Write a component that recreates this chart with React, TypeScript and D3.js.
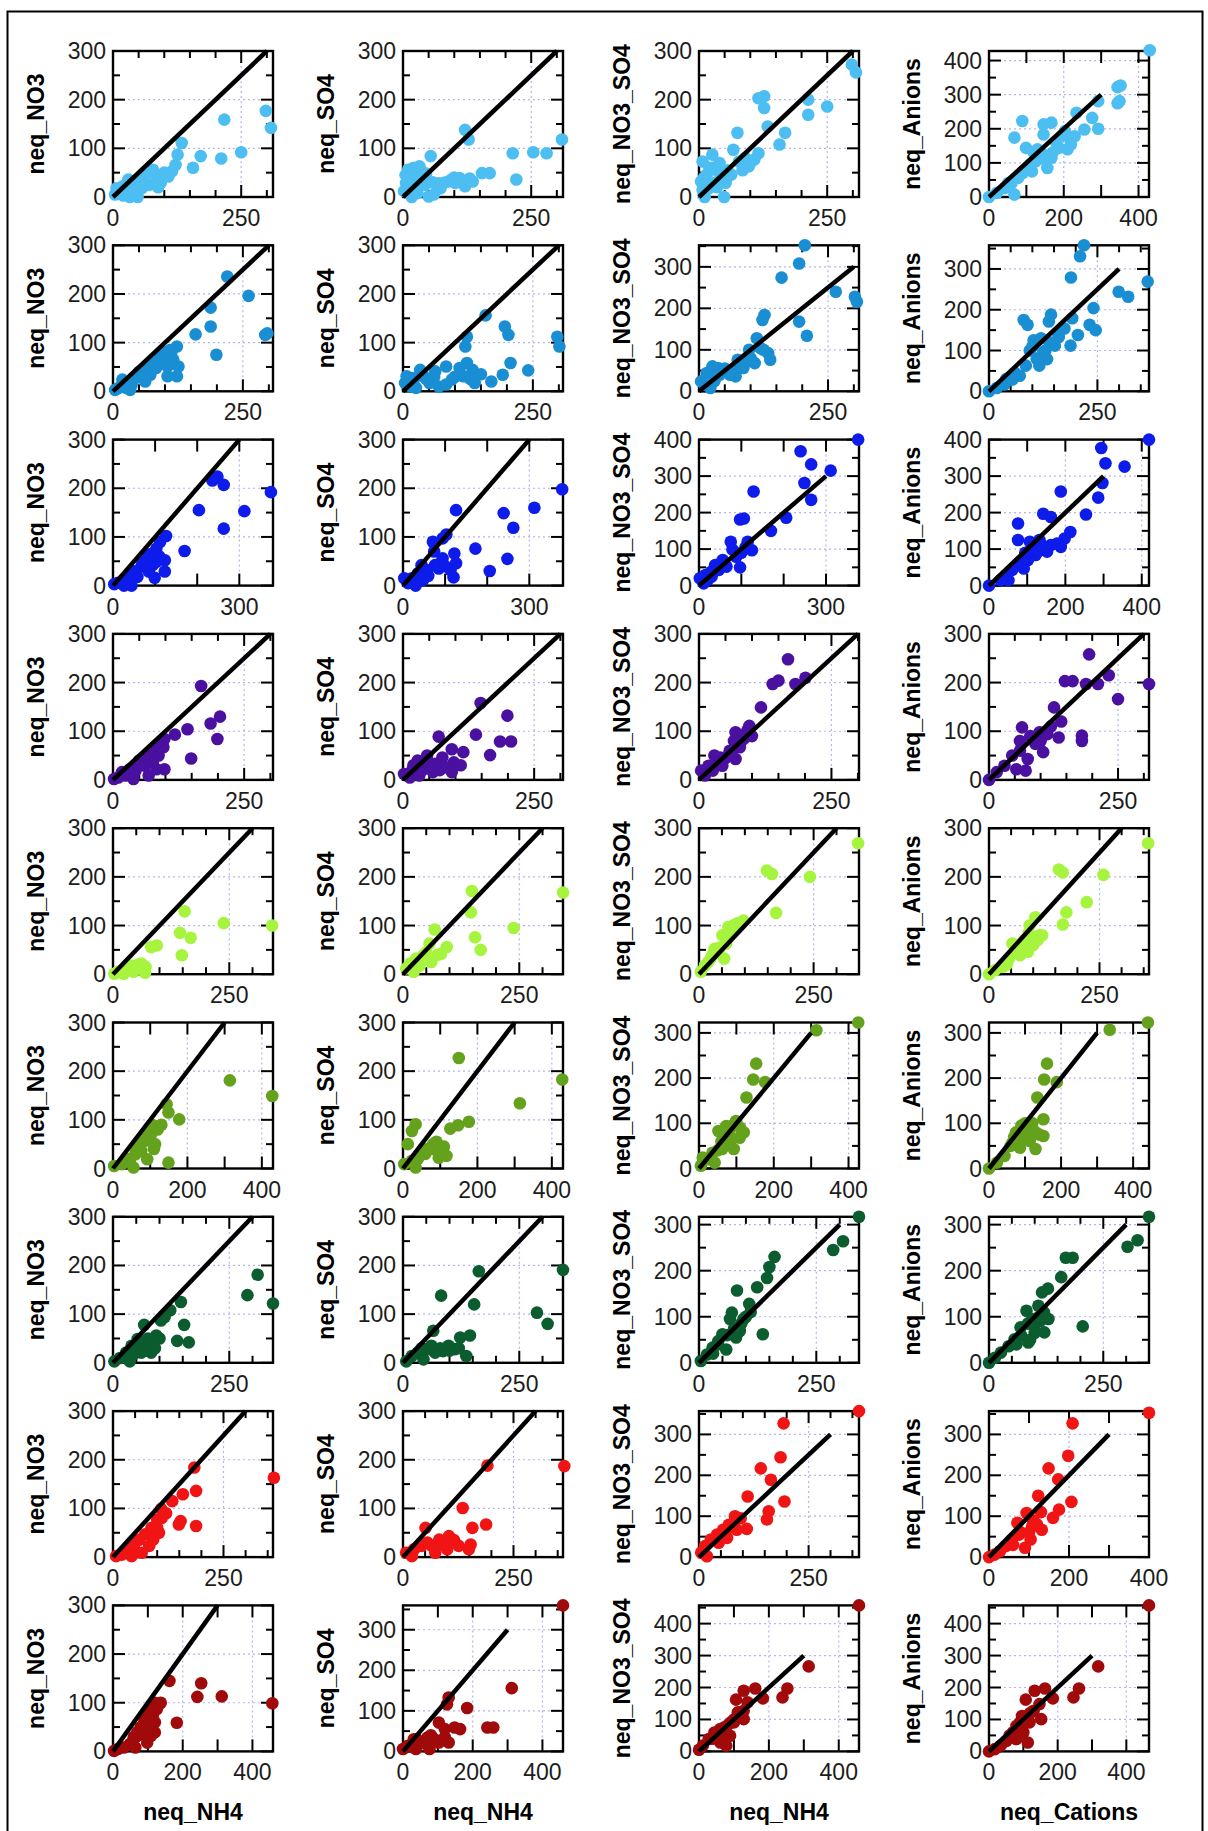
import React, { useEffect, useRef } from 'react'
import * as d3 from 'd3'

// one colour per row of panels
const rowColors = ['#4cbef2', '#1a8ed3', '#0d1cea', '#4a10a0', '#a6f43e', '#64a21e', '#0b5c2e', '#f01414', '#a00a0a']
const yTitles = ['neq_NO3', 'neq_SO4', 'neq_NO3_SO4', 'neq_Anions']
const xTitles = ['neq_NH4', 'neq_NH4', 'neq_NH4', 'neq_Cations']

// axis ranges per panel [row][col]
const xMax = [
  [312, 312, 312, 428],
  [308, 308, 310, 369],
  [380, 380, 378, 419],
  [305, 305, 302, 310],
  [344, 344, 349, 362],
  [430, 430, 428, 444],
  [344, 344, 341, 350],
  [362, 362, 365, 400],
  [459, 459, 458, 466]
]
const yMax = [
  [300, 300, 300, 428],
  [300, 300, 352, 358],
  [300, 300, 400, 400],
  [300, 300, 300, 300],
  [300, 300, 300, 300],
  [300, 300, 323, 323],
  [300, 300, 317, 317],
  [300, 300, 357, 357],
  [300, 360, 457, 457]
]
// spacing of the x tick labels
const xLabelStep = [
  [250, 250, 250, 200],
  [250, 250, 250, 250],
  [300, 300, 300, 200],
  [250, 250, 250, 250],
  [250, 250, 250, 250],
  [200, 200, 200, 200],
  [250, 250, 250, 250],
  [250, 250, 250, 200],
  [200, 200, 200, 200]
]

type P = [number, number][]

const r0c0: P = [[298,177],[308,142],[217,159],[250,92],[211,79],[171,84],[156,60],[134,111],[126,87],[122,66],[115,53],[108,42],[93,29],[96,46],[78,56],[63,46],[52,32],[41,18],[30,36],[19,22],[11,12],[4,5],[33,0],[48,0],[26,8],[44,8],[56,18],[7,18],[60,30],[85,38],[100,50],[70,25],[40,12],[15,8],[20,3],[88,20]]
const r0c1: P = [[310,118],[280,90],[254,92],[214,90],[221,36],[169,49],[154,49],[136,32],[121,138],[128,118],[110,39],[95,36],[80,29],[65,25],[50,1],[54,84],[36,53],[28,32],[21,60],[13,46],[6,29],[2,12],[17,0],[24,18],[43,25],[73,18],[102,29],[121,22],[10,56],[32,63],[5,45],[15,38],[20,50],[35,40],[45,48],[58,30],[88,32],[115,34],[130,38],[100,40],[70,28],[8,20],[28,8],[60,5]]
const r0c2: P = [[298,272],[306,256],[213,200],[213,169],[250,186],[116,203],[127,207],[127,183],[134,145],[168,132],[157,108],[116,90],[108,77],[97,63],[78,73],[75,132],[67,97],[63,46],[49,0],[52,29],[37,53],[26,87],[26,60],[15,46],[7,73],[4,32],[7,15],[11,0],[30,29],[45,42],[19,18],[20,60],[40,70],[55,55],[10,40],[35,20],[85,55],[100,70],[90,80],[20,30]]
const r0c3: P = [[430,430],[352,327],[344,322],[349,281],[344,275],[292,281],[292,200],[276,232],[255,198],[234,247],[229,178],[219,154],[203,193],[187,144],[167,218],[146,213],[146,183],[146,124],[125,105],[99,144],[89,223],[68,174],[78,56],[68,7],[52,41],[42,26],[21,12],[0,0],[115,75],[167,115],[156,85],[104,85],[120,130],[130,140],[150,110],[180,160],[200,180],[110,95],[60,40],[90,70],[170,130],[210,140]]

const r1c0: P = [[220,236],[261,196],[297,119],[293,116],[188,172],[188,133],[199,75],[159,117],[123,92],[112,78],[126,51],[123,31],[105,51],[94,65],[83,48],[72,34],[62,20],[47,31],[36,14],[25,7],[11,7],[4,3],[18,24],[33,3],[40,24],[116,65],[105,31],[76,58],[50,40],[60,45],[90,70],[100,80],[110,85],[30,15],[20,12]]
const r1c1: P = [[159,156],[196,133],[203,116],[207,58],[192,34],[241,43],[297,112],[301,92],[123,112],[120,92],[123,58],[134,44],[116,31],[109,48],[83,51],[62,41],[40,31],[18,27],[4,17],[7,31],[33,44],[69,10],[94,24],[51,17],[25,7],[138,17],[83,14],[20,20],[45,25],[60,30],[100,30],[130,25],[150,35],[170,20],[15,10]]
const r1c2: P = [[205,352],[194,308],[160,274],[265,240],[302,228],[306,216],[194,168],[209,134],[127,184],[123,172],[112,128],[108,68],[134,92],[138,76],[119,104],[97,100],[75,76],[71,36],[52,48],[37,56],[26,60],[15,44],[4,24],[11,16],[30,36],[60,40],[86,56],[22,8],[40,40],[50,55],[65,50],[80,60],[90,70],[100,80],[30,25],[125,100]]
const r1c3: P = [[219,358],[210,331],[189,279],[366,269],[299,244],[321,232],[241,204],[192,179],[174,154],[232,163],[246,150],[205,138],[188,112],[143,188],[138,171],[80,175],[89,163],[103,125],[125,96],[134,79],[152,112],[116,63],[85,63],[71,38],[54,29],[36,17],[18,8],[0,0],[94,100],[161,133],[100,110],[120,130],[140,120],[160,140],[110,80],[60,45],[40,30],[130,100]]

const r2c0: P = [[375,192],[248,224],[236,216],[263,207],[204,155],[312,153],[263,117],[170,71],[126,102],[112,90],[103,76],[123,52],[123,29],[99,16],[94,42],[80,59],[67,39],[53,29],[39,18],[26,12],[12,6],[3,3],[44,0],[26,0],[58,18],[85,29],[103,49],[70,50],[90,65],[45,30],[110,60]]
const r2c1: P = [[378,198],[312,160],[239,149],[262,119],[248,55],[206,30],[172,76],[126,155],[122,66],[126,46],[120,17],[103,105],[94,97],[71,90],[74,70],[94,56],[76,42],[58,32],[44,42],[35,25],[21,15],[3,15],[12,5],[30,0],[48,12],[113,32],[60,20],[85,35],[100,40]]
const r2c2: P = [[376,400],[240,368],[265,332],[311,315],[249,281],[265,235],[129,258],[97,181],[106,184],[206,186],[170,150],[125,97],[115,120],[75,120],[79,99],[88,79],[97,50],[65,52],[47,43],[38,56],[29,38],[15,29],[2,20],[20,15],[11,6],[56,70],[100,90],[110,105],[60,60],[30,25]]
const r2c3: P = [[419,400],[294,377],[305,335],[355,326],[297,281],[286,241],[254,195],[188,258],[213,147],[198,129],[188,106],[142,197],[162,188],[76,170],[76,125],[107,120],[132,125],[152,93],[122,84],[162,111],[102,70],[91,47],[81,61],[61,43],[46,29],[30,15],[51,15],[0,0],[178,115],[140,110],[115,100],[95,90],[130,95]]

const r3c0: P = [[168,193],[204,130],[186,116],[199,84],[142,104],[118,93],[149,44],[98,84],[96,67],[98,22],[87,50],[76,36],[68,50],[61,29],[50,40],[43,19],[32,22],[24,9],[10,5],[2,2],[68,9],[83,22],[39,2],[17,16],[60,40],[70,55],[80,60],[90,70],[50,30]]
const r3c1: P = [[148,158],[68,89],[139,93],[199,132],[185,79],[206,79],[166,51],[115,57],[93,63],[97,36],[82,26],[75,46],[61,33],[46,50],[39,22],[28,40],[17,19],[2,12],[13,5],[31,9],[57,16],[93,16],[50,30],[70,20],[110,30],[20,30]]
const r3c2: P = [[168,248],[139,197],[150,204],[182,197],[201,210],[117,149],[95,111],[91,101],[69,98],[66,80],[77,67],[55,50],[40,46],[29,50],[18,29],[4,19],[26,19],[44,29],[58,60],[80,80],[11,9],[69,43],[50,45],[60,55],[70,70],[85,85],[90,95],[100,90],[35,35]]
const r3c3: P = [[194,258],[147,203],[162,203],[188,197],[211,197],[232,215],[310,197],[250,166],[126,149],[180,91],[180,80],[135,87],[113,94],[64,108],[60,80],[90,74],[105,57],[75,43],[71,19],[45,50],[30,29],[15,16],[0,0],[98,98],[53,22],[80,90],[100,80],[120,110],[140,120],[60,60]]

const r4c0: P = [[342,100],[238,105],[154,129],[144,85],[167,75],[148,39],[94,59],[82,56],[61,22],[48,15],[36,12],[23,1],[69,3],[11,5],[3,1],[44,5],[30,10],[40,18],[55,20],[20,5],[70,15]]
const r4c1: P = [[344,168],[148,171],[146,127],[238,95],[155,76],[167,50],[68,92],[94,56],[82,42],[57,63],[44,39],[28,32],[15,22],[7,12],[36,18],[23,5],[61,25],[50,45],[75,40],[30,15]]
const r4c2: P = [[347,269],[148,213],[159,206],[242,200],[168,126],[97,110],[81,103],[64,97],[51,80],[59,63],[42,46],[34,52],[25,32],[13,18],[4,5],[55,32],[68,87],[70,90],[75,100],[85,105],[60,70],[45,55],[30,40],[20,25]]
const r4c3: P = [[360,269],[158,215],[167,209],[259,204],[221,148],[175,127],[167,102],[105,117],[92,100],[114,80],[96,63],[75,59],[53,63],[70,39],[44,29],[31,15],[13,8],[0,0],[88,46],[80,70],[90,85],[100,60],[110,70],[60,45],[40,20],[120,80]]

const r5c0: P = [[428,149],[314,181],[178,101],[144,132],[149,115],[149,12],[107,84],[102,70],[113,50],[86,57],[76,36],[60,29],[45,16],[24,9],[3,5],[55,2],[92,19],[66,50],[60,40],[80,60],[95,75],[105,90],[120,80],[130,90],[70,45],[40,20],[110,40]]
const r5c1: P = [[150,227],[428,183],[314,134],[177,96],[148,89],[127,82],[34,91],[24,77],[81,50],[96,22],[65,40],[50,29],[24,16],[3,9],[34,2],[117,26],[13,50],[60,30],[80,40],[100,30],[110,45],[40,20],[90,55]]
const r5c2: P = [[426,323],[314,306],[153,232],[145,197],[177,191],[127,157],[99,105],[109,68],[73,94],[52,83],[83,57],[62,43],[36,35],[21,21],[5,6],[42,13],[93,43],[10,24],[60,60],[70,75],[80,85],[90,95],[100,100],[110,90],[120,80],[50,40],[30,20],[85,70]]
const r5c3: P = [[441,323],[335,307],[161,232],[153,197],[188,191],[134,157],[151,109],[151,72],[118,101],[97,87],[75,80],[65,57],[86,46],[43,28],[22,13],[0,0],[113,61],[129,43],[70,70],[90,95],[100,100],[110,90],[120,100],[130,80],[140,75],[60,50],[80,60],[100,70]]

const r6c0: P = [[344,122],[311,181],[289,139],[153,78],[163,42],[138,45],[146,125],[123,108],[111,94],[103,87],[93,56],[82,21],[67,78],[69,38],[53,49],[40,35],[28,21],[15,10],[3,3],[36,3],[61,21],[82,45],[44,17],[50,30],[60,40],[75,50],[85,40],[90,30],[70,25],[100,50]]
const r6c1: P = [[344,191],[163,188],[82,138],[153,120],[288,103],[311,80],[144,56],[123,52],[136,14],[65,66],[98,35],[86,24],[69,21],[53,28],[32,21],[19,14],[7,3],[44,7],[111,28],[61,35],[40,30],[80,30],[100,25],[120,30]]
const r6c2: P = [[341,317],[307,264],[286,245],[161,230],[150,208],[145,184],[124,164],[81,157],[107,128],[70,109],[66,95],[87,69],[136,62],[50,62],[41,47],[29,33],[17,18],[4,4],[58,29],[79,55],[95,95],[40,40],[60,60],[75,75],[90,85],[100,100],[110,110],[30,20]]
const r6c3: P = [[350,317],[325,266],[303,252],[168,228],[183,228],[158,186],[129,161],[116,153],[205,79],[82,113],[112,91],[99,80],[108,124],[69,77],[56,51],[86,44],[43,36],[26,22],[13,11],[0,0],[121,66],[70,60],[85,85],[95,95],[110,100],[120,110],[130,95],[100,65],[90,50],[60,40]]

const r7c0: P = [[364,163],[184,184],[188,136],[158,129],[134,115],[153,74],[149,67],[188,64],[109,99],[100,77],[104,50],[87,60],[73,47],[60,36],[47,23],[34,12],[20,5],[7,2],[42,2],[82,23],[65,9],[91,36],[110,80],[120,90],[100,60],[50,30],[40,25]]
const r7c1: P = [[365,187],[191,188],[135,101],[157,60],[188,67],[153,26],[149,16],[51,60],[104,43],[82,36],[65,23],[42,23],[25,16],[7,9],[20,2],[100,16],[126,23],[73,9],[55,30],[90,25],[115,35]]
const r7c2: P = [[365,357],[193,327],[186,244],[141,217],[164,189],[195,136],[111,148],[159,112],[155,92],[109,69],[82,100],[68,79],[55,67],[41,55],[27,43],[14,27],[5,11],[64,47],[86,67],[45,35],[18,2],[60,60],[70,75],[80,85],[95,95],[50,50]]
const r7c3: P = [[400,353],[209,327],[198,248],[149,217],[173,190],[206,135],[123,150],[175,116],[160,96],[94,108],[108,75],[132,67],[104,43],[71,84],[75,55],[57,43],[42,27],[28,15],[14,6],[0,0],[90,23],[110,90],[120,80],[80,60],[60,30],[100,60],[130,110]]

const r8c0: P = [[457,99],[312,113],[242,112],[253,140],[162,145],[183,59],[137,100],[126,87],[114,73],[120,39],[103,53],[92,66],[81,42],[70,32],[59,25],[48,15],[31,8],[14,5],[3,1],[64,8],[98,18],[109,32],[100,80],[110,90],[120,100],[130,95],[90,60],[80,50],[70,40],[60,30],[100,30],[120,60]]
const r8c1: P = [[459,360],[312,156],[242,59],[259,59],[184,107],[131,133],[126,116],[103,71],[120,55],[148,59],[164,55],[131,22],[103,22],[70,34],[48,22],[31,30],[14,14],[0,6],[37,6],[76,6],[60,20],[90,30],[120,35],[40,30],[25,15],[80,40]]
const r8c2: P = [[458,457],[314,266],[253,197],[239,169],[183,166],[161,197],[128,190],[106,162],[139,154],[128,127],[128,101],[100,91],[89,49],[78,18],[61,70],[44,59],[28,39],[11,18],[0,5],[61,28],[72,75],[111,122],[70,60],[80,80],[90,90],[100,100],[40,40],[50,45]]
const r8c3: P = [[466,457],[318,266],[262,197],[246,169],[186,166],[163,197],[133,190],[107,162],[147,148],[152,101],[118,91],[113,28],[90,70],[68,54],[51,33],[34,18],[17,7],[0,0],[130,127],[96,111],[79,39],[70,60],[80,80],[90,90],[100,100],[110,110],[120,120],[60,50],[100,60],[80,40]]

const panels: P[][] = [
  [r0c0, r0c1, r0c2, r0c3],
  [r1c0, r1c1, r1c2, r1c3],
  [r2c0, r2c1, r2c2, r2c3],
  [r3c0, r3c1, r3c2, r3c3],
  [r4c0, r4c1, r4c2, r4c3],
  [r5c0, r5c1, r5c2, r5c3],
  [r6c0, r6c1, r6c2, r6c3],
  [r7c0, r7c1, r7c2, r7c3],
  [r8c0, r8c1, r8c2, r8c3]
]

const W = 1208
const H = 1831
const colLeft = [113, 403, 699, 989]
const boxW = 160
const boxH = 146
const rowTop = (r: number) => 51 + 194.3 * r
const font = "'Liberation Sans', Arial, sans-serif"

export default function App() {
  const ref = useRef<SVGSVGElement>(null)

  useEffect(() => {
    const svg = d3.select(ref.current)
    svg.selectAll('*').remove()

    svg.append('rect').attr('width', W).attr('height', H).attr('fill', '#fff')
    // outer frame
    svg.append('rect')
      .attr('x', 7.5).attr('y', 11.5).attr('width', 1195).attr('height', 1850)
      .attr('fill', 'none').attr('stroke', '#000').attr('stroke-width', 2)

    panels.forEach((row, r) => {
      row.forEach((pts, c) => {
        const left = colLeft[c]
        const top = rowTop(r)
        const xm = xMax[r][c]
        const ym = yMax[r][c]
        const step = xLabelStep[r][c]
        const x = d3.scaleLinear().domain([0, xm]).range([left, left + boxW])
        const y = d3.scaleLinear().domain([0, ym]).range([top + boxH, top])
        const g = svg.append('g')

        const yLabels = d3.range(0, ym + 0.5, 100)
        const xLabels = d3.range(0, xm + 0.5, step)
        const yTicks = d3.range(0, ym + 0.5, 50)
        const xTicks = d3.range(0, xm + 0.5, step === 250 ? 50 : 100)

        // dotted grid at the labelled values
        g.selectAll('.gy').data(yLabels.filter(v => v > 0 && v < ym - 1)).enter().append('line')
          .attr('x1', left).attr('x2', left + boxW)
          .attr('y1', d => y(d)).attr('y2', d => y(d))
          .attr('stroke', '#b4b4ee').attr('stroke-width', 1.2).attr('stroke-dasharray', '2,3')
        g.selectAll('.gx').data(xLabels.filter(v => v > 0 && v < xm - 1)).enter().append('line')
          .attr('y1', top).attr('y2', top + boxH)
          .attr('x1', d => x(d)).attr('x2', d => x(d))
          .attr('stroke', '#b4b4ee').attr('stroke-width', 1.2).attr('stroke-dasharray', '2,3')

        // inward ticks on all four sides
        const tl = (major: boolean) => (major ? 12 : 7)
        yTicks.forEach(v => {
          const len = tl(v % 100 === 0)
          g.append('line').attr('x1', left).attr('x2', left + len).attr('y1', y(v)).attr('y2', y(v))
            .attr('stroke', '#000').attr('stroke-width', 2)
          g.append('line').attr('x1', left + boxW).attr('x2', left + boxW - len).attr('y1', y(v)).attr('y2', y(v))
            .attr('stroke', '#000').attr('stroke-width', 2)
        })
        xTicks.forEach(v => {
          const len = tl(v % step === 0 || step !== 250)
          g.append('line').attr('y1', top + boxH).attr('y2', top + boxH - len).attr('x1', x(v)).attr('x2', x(v))
            .attr('stroke', '#000').attr('stroke-width', 2)
          g.append('line').attr('y1', top).attr('y2', top + len).attr('x1', x(v)).attr('x2', x(v))
            .attr('stroke', '#000').attr('stroke-width', 2)
        })

        g.append('rect').attr('x', left).attr('y', top).attr('width', boxW).attr('height', boxH)
          .attr('fill', 'none').attr('stroke', '#000').attr('stroke-width', 2.4)

        // tick labels
        g.selectAll('.yl').data(yLabels).enter().append('text')
          .attr('x', left - 7).attr('y', d => y(d) + 8)
          .attr('text-anchor', 'end').attr('font-family', font).attr('font-size', 23).attr('fill', '#1c1c1c')
          .text(d => d)
        g.selectAll('.xl').data(xLabels).enter().append('text')
          .attr('x', d => x(d)).attr('y', top + boxH + 29)
          .attr('text-anchor', 'middle').attr('font-family', font).attr('font-size', 23).attr('fill', '#1c1c1c')
          .text(d => d)

        // y title
        g.append('text')
          .attr('transform', 'translate(' + (left - 77) + ',' + (top + boxH / 2) + ') rotate(-90)')
          .attr('text-anchor', 'middle').attr('dominant-baseline', 'central')
          .attr('font-family', font).attr('font-size', 23).attr('font-weight', 'bold')
          .text(yTitles[c])

        // points
        g.selectAll('circle').data(pts).enter().append('circle')
          .attr('cx', d => x(d[0])).attr('cy', d => y(d[1])).attr('r', 6.3)
          .attr('fill', rowColors[r])

        // 1:1 line
        g.append('line')
          .attr('x1', x(0)).attr('y1', y(0)).attr('x2', x(300)).attr('y2', y(300))
          .attr('stroke', '#000').attr('stroke-width', 4.5)
      })
    })

    // bottom x titles
    xTitles.forEach((t, c) => {
      svg.append('text')
        .attr('x', colLeft[c] + boxW / 2).attr('y', 1820)
        .attr('text-anchor', 'middle').attr('font-family', font).attr('font-size', 23).attr('font-weight', 'bold')
        .text(t)
    })
  }, [])

  return (
    <div style={{ position: 'absolute', left: 0, top: 0 }}>
      <svg ref={ref} width={W} height={H} style={{ display: 'block' }} />
    </div>
  )
}
